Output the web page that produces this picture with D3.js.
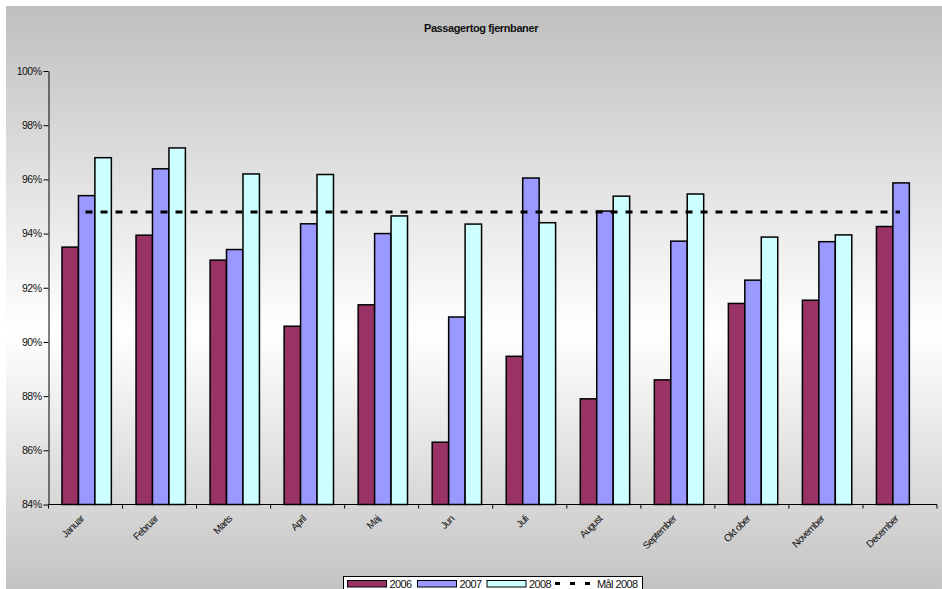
<!DOCTYPE html>
<html>
<head>
<meta charset="utf-8">
<script src="https://cdn.jsdelivr.net/npm/d3@7/dist/d3.min.js"></script>
<style>
  html, body { margin: 0; padding: 0; background: #ffffff; }
  svg { display: block; }
  text { font-family: "Liberation Sans", Arial, sans-serif; fill: #111; }
</style>
</head>
<body>
<svg id="chart" width="942" height="589"></svg>
<script>
// Månedlig regularitet, passagertog fjernbaner
const months = ["Januar", "Februar", "Marts", "April", "Maj", "Jun", "Juli",
  "August", "September", "Oktober", "November", "December"];
const labels = ["Januar", "Februar", "Marts", "April", "Maj", "Jun", "Juli",
  "August", "September", "Okt ober", "November", "December"];
const years = ["2006", "2007", "2008"];
const values2006 = [93.50, 93.94, 93.02, 90.58, 91.37, 86.30, 89.47, 87.90, 88.60, 91.42, 91.54, 94.26];
const values2007 = [95.40, 96.39, 93.41, 94.36, 94.00, 90.92, 96.05, 94.83, 93.72, 92.28, 93.70, 95.87];
const values2008 = [96.80, 97.16, 96.20, 96.18, 94.65, 94.35, 94.40, 95.38, 95.46, 93.87, 93.95, null];
const target2008 = 94.8;
const yTicks = [84, 86, 88, 90, 92, 94, 96, 98, 100];
const colors = ["#993366", "#9999ff", "#ccffff"];

const svg = d3.select("#chart");

// chart area background: grey - white - grey gradient
const defs = svg.append("defs");
const grad = defs.append("linearGradient")
  .attr("id", "bg").attr("x1", 0).attr("y1", 0).attr("x2", 0).attr("y2", 1);
grad.append("stop").attr("offset", "0%").attr("stop-color", "#bfbfbf");
grad.append("stop").attr("offset", "56%").attr("stop-color", "#ffffff");
grad.append("stop").attr("offset", "100%").attr("stop-color", "#c3c3c3");

svg.append("rect")
  .attr("x", 6).attr("y", 6).attr("width", 936).attr("height", 583)
  .attr("fill", "url(#bg)");

const plot = { left: 48.5, right: 937, top: 71, bottom: 504.5 };

const x = d3.scaleBand().domain(months).range([plot.left, plot.right]).padding(0);
// three bars per month, gap of 1.5 bar widths shared around the group
const bw = x.bandwidth() / 4.5;
const groupStart = bw * 0.82;
const xs = d3.scaleBand().domain(years)
  .range([groupStart, groupStart + bw * 3])
  .padding(0);
const y = d3.scaleLinear().domain([84, 100]).range([plot.bottom, plot.top]);

// title
svg.append("text")
  .attr("x", 481).attr("y", 32)
  .attr("text-anchor", "middle")
  .attr("font-size", 11).attr("font-weight", "bold")
  .attr("letter-spacing", -0.4)
  .text("Passagertog fjernbaner");

// bars
const series = [values2006, values2007, values2008];
const groups = svg.append("g");
series.forEach((vals, si) => {
  groups.selectAll(null)
    .data(months.map((m, i) => ({ m, v: vals[i] })).filter(d => d.v !== null))
    .enter().append("rect")
    .attr("x", d => x(d.m) + xs(years[si]))
    .attr("y", d => y(d.v))
    .attr("width", xs.bandwidth())
    .attr("height", d => y(84) - y(d.v))
    .attr("fill", colors[si])
    .attr("stroke", "#000")
    .attr("stroke-width", 1.5);
});

// target line
const line = d3.line().x(d => x(d) + x.bandwidth() / 2).y(() => y(target2008));
svg.append("path")
  .datum(months)
  .attr("d", line)
  .attr("fill", "none")
  .attr("stroke", "#000")
  .attr("stroke-width", 3)
  .attr("stroke-dasharray", "7,8");

// y axis
const yAxis = d3.axisLeft(y).tickValues(yTicks).tickSize(5).tickSizeOuter(0)
  .tickFormat(d => d + "%");
const gy = svg.append("g").attr("transform", `translate(${plot.left},0)`).call(yAxis);
gy.select(".domain").attr("stroke", "#000");
gy.selectAll(".tick line").attr("stroke", "#000");
gy.selectAll(".tick text")
  .attr("font-size", 10.5).attr("letter-spacing", -0.5)
  .attr("font-family", "Liberation Sans, Arial, sans-serif")
  .attr("fill", "#222").attr("x", -7);

// x axis: ticks at category boundaries
const gx = svg.append("g").attr("transform", `translate(0,${plot.bottom})`);
gx.append("line")
  .attr("x1", plot.left).attr("x2", plot.right)
  .attr("stroke", "#000");
gx.selectAll(".xt")
  .data(months.map(m => x(m)).concat([plot.right]))
  .enter().append("line")
  .attr("x1", d => d).attr("x2", d => d)
  .attr("y1", 0).attr("y2", 4)
  .attr("stroke", "#000");
gx.selectAll(".xl")
  .data(months)
  .enter().append("text")
  .attr("transform", d => `translate(${x(d) + x.bandwidth() / 2 - 1},15) rotate(-45)`)
  .attr("text-anchor", "end")
  .attr("font-size", 10).attr("letter-spacing", -0.7)
  .attr("fill", "#222")
  .text((d, i) => labels[i]);

// legend
const lg = svg.append("g");
lg.append("rect")
  .attr("x", 343.5).attr("y", 576.5).attr("width", 299).attr("height", 20)
  .attr("fill", "#fff").attr("stroke", "#000");
const swX = [347.5, 417.5, 487];
years.forEach((yr, i) => {
  lg.append("rect")
    .attr("x", swX[i]).attr("y", 580.5).attr("width", 39).attr("height", 6.5)
    .attr("fill", colors[i]).attr("stroke", "#000").attr("stroke-width", 1);
  lg.append("text")
    .attr("x", swX[i] + 42).attr("y", 588)
    .attr("font-size", 11).attr("letter-spacing", -0.6)
    .text(yr);
});
lg.append("line")
  .attr("x1", 555).attr("x2", 592).attr("y1", 583.5).attr("y2", 583.5)
  .attr("stroke", "#000").attr("stroke-width", 3)
  .attr("stroke-dasharray", "5,10");
lg.append("text")
  .attr("x", 597).attr("y", 588)
  .attr("font-size", 11).attr("letter-spacing", -0.6)
  .text("Mål 2008");
</script>
</body>
</html>
